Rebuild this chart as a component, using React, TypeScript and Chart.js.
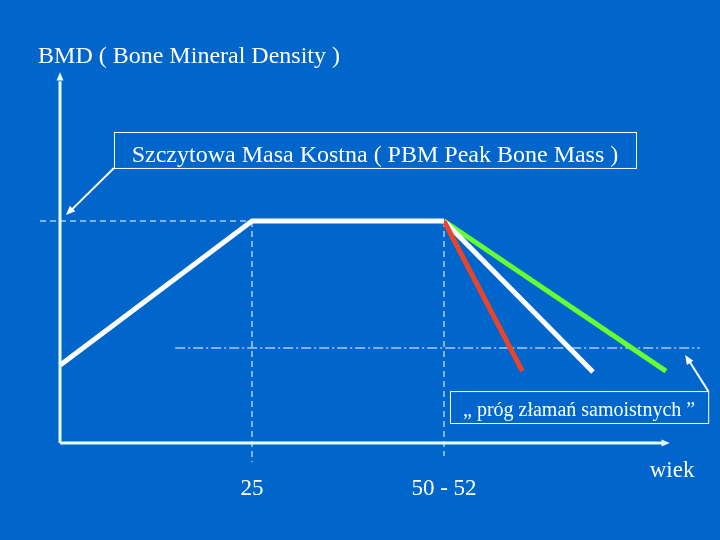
import React, { useEffect, useRef } from "react";
import { Chart, registerables } from "chart.js";
Chart.register(...registerables);

// Ages (years) and BMD (relative units, peak = 100)
const mainAges = [0, 25, 50];
const mainBmd = [35, 100, 100];
const declineStartAge = 50;
const declineStartBmd = 100;
const declineEndAges = [60.2, 69.4, 78.9];
const declineEndBmd = [32.4, 32.0, 32.4];
const declineColors = ["#e8452a", "#ffffff", "#66ff33"];
const thresholdBmd = 42.8;
const tickAges = [25, 50];
const tickLabels = ["25", "50 - 52"];

const titleText = "BMD ( Bone Mineral Density )";
const pbmText = "Szczytowa Masa Kostna ( PBM Peak Bone Mass )";
const thresholdText = "„ próg złamań samoistnych ”";
const xAxisText = "wiek";

const BG = "#0066cc";
const AXIS = "#e6ffff";
const FONT = "'Liberation Serif', 'Times New Roman', serif";

function arrowHead(ctx: CanvasRenderingContext2D, x0: number, y0: number, x1: number, y1: number, size: number) {
  const a = Math.atan2(y1 - y0, x1 - x0);
  ctx.beginPath();
  ctx.moveTo(x1, y1);
  ctx.lineTo(x1 - size * Math.cos(a - 0.4), y1 - size * Math.sin(a - 0.4));
  ctx.lineTo(x1 - size * Math.cos(a + 0.4), y1 - size * Math.sin(a + 0.4));
  ctx.closePath();
  ctx.fill();
}

const decorPlugin = {
  id: "decor",
  beforeDraw(chart: any) {
    const { ctx, width, height } = chart;
    ctx.save();
    ctx.fillStyle = BG;
    ctx.fillRect(0, 0, width, height);
    ctx.restore();
  },
  beforeDatasetsDraw(chart: any) {
    const { ctx } = chart;
    const xs = chart.scales.x;
    const ys = chart.scales.y;
    const X = (v: number) => xs.getPixelForValue(v);
    const Y = (v: number) => ys.getPixelForValue(v);
    ctx.save();
    ctx.strokeStyle = "#ffffff";
    ctx.lineWidth = 1;
    // peak dashed guide
    ctx.setLineDash([6, 4]);
    ctx.beginPath();
    ctx.moveTo(X(-2.6), Y(100));
    ctx.lineTo(X(25), Y(100));
    ctx.stroke();
    // vertical dashed guides
    ctx.beginPath();
    ctx.moveTo(X(25), Y(100));
    ctx.lineTo(X(25), Y(-8.6));
    ctx.moveTo(X(50), Y(100));
    ctx.lineTo(X(50), Y(-5.9));
    ctx.stroke();
    // threshold dash-dot line
    ctx.setLineDash([10, 3, 2, 3]);
    ctx.beginPath();
    ctx.moveTo(X(15), Y(thresholdBmd));
    ctx.lineTo(X(83.3), Y(thresholdBmd));
    ctx.stroke();
    ctx.restore();
  },
  afterDatasetsDraw(chart: any) {
    const { ctx } = chart;
    const xs = chart.scales.x;
    const ys = chart.scales.y;
    const X = (v: number) => xs.getPixelForValue(v);
    const Y = (v: number) => ys.getPixelForValue(v);
    ctx.save();
    // axes
    ctx.strokeStyle = AXIS;
    ctx.fillStyle = AXIS;
    ctx.lineWidth = 3;
    ctx.beginPath();
    ctx.moveTo(X(0), Y(0));
    ctx.lineTo(X(0), Y(163));
    ctx.moveTo(X(0), Y(0));
    ctx.lineTo(X(78.5), Y(0));
    ctx.stroke();
    arrowHead(ctx, X(0), Y(0), X(0), Y(167), 9);
    arrowHead(ctx, X(0), Y(0), X(79.4), Y(0), 9);

    // PBM box
    ctx.strokeStyle = "#ffffff";
    ctx.fillStyle = "#ffffff";
    ctx.lineWidth = 1;
    const b1l = X(7.03), b1r = X(75), b1t = Y(140.1), b1b = Y(123.9);
    ctx.strokeRect(b1l + 0.5, b1t + 0.5, b1r - b1l, b1b - b1t);
    ctx.lineWidth = 2;
    ctx.beginPath();
    ctx.moveTo(b1l, b1b);
    ctx.lineTo(X(1.2), Y(104));
    ctx.stroke();
    arrowHead(ctx, b1l, b1b, X(0.78), Y(102.7), 10);

    // threshold box
    ctx.lineWidth = 1;
    const b2l = X(50.78), b2r = X(84.4), b2t = Y(23.4), b2b = Y(9.0);
    ctx.strokeRect(b2l + 0.5, b2t + 0.5, b2r - b2l, b2b - b2t);
    ctx.lineWidth = 2;
    ctx.beginPath();
    ctx.moveTo(b2r, b2t);
    ctx.lineTo(X(81.7), Y(38.2));
    ctx.stroke();
    arrowHead(ctx, b2r, b2t, X(81.4), Y(39.6), 10);

    // texts
    ctx.fillStyle = "#ffffff";
    ctx.textBaseline = "alphabetic";
    ctx.font = `24px ${FONT}`;
    ctx.textAlign = "left";
    ctx.fillText(titleText, X(-2.86), Y(171.3));
    ctx.textAlign = "center";
    ctx.font = `24px ${FONT}`;
    ctx.fillText(pbmText, (b1l + b1r) / 2, Y(126.8));
    ctx.font = `20px ${FONT}`;
    ctx.fillText(thresholdText, (b2l + b2r) / 2, Y(12.3));
    ctx.font = `23px ${FONT}`;
    tickAges.forEach((a, i) => {
      ctx.fillText(tickLabels[i], X(a), Y(-23.6));
    });
    ctx.fillText(xAxisText, X(79.7), Y(-15.5));
    ctx.restore();
  },
};

export default function App() {
  const ref = useRef<HTMLCanvasElement>(null);
  useEffect(() => {
    document.body.style.margin = "0";
    document.body.style.background = BG;
    const mainData = mainAges.map((a, i) => ({ x: a, y: mainBmd[i] }));
    const declineSets = declineEndAges.map((a, i) => ({
      data: [
        { x: declineStartAge, y: declineStartBmd },
        { x: a, y: declineEndBmd[i] },
      ],
      borderColor: declineColors[i],
      borderWidth: 5,
      pointRadius: 0,
      showLine: true,
      borderCapStyle: "butt" as const,
    }));
    const chart = new Chart(ref.current!, {
      type: "scatter",
      data: {
        datasets: [
          {
            data: mainData,
            borderColor: "#ffffff",
            borderWidth: 5,
            pointRadius: 0,
            showLine: true,
            borderJoinStyle: "miter",
          },
          ...declineSets,
        ],
      },
      options: {
        animation: false,
        responsive: false,
        layout: { padding: 0 },
        plugins: { legend: { display: false }, tooltip: { enabled: false } },
        scales: {
          x: { type: "linear", display: false, min: -7.8125, max: 85.9375 },
          y: { type: "linear", display: false, min: -43.69, max: 199.55 },
        },
      },
      plugins: [decorPlugin],
    });
    return () => chart.destroy();
  }, []);
  return <canvas ref={ref} width={720} height={540} style={{ display: "block" }} />;
}
